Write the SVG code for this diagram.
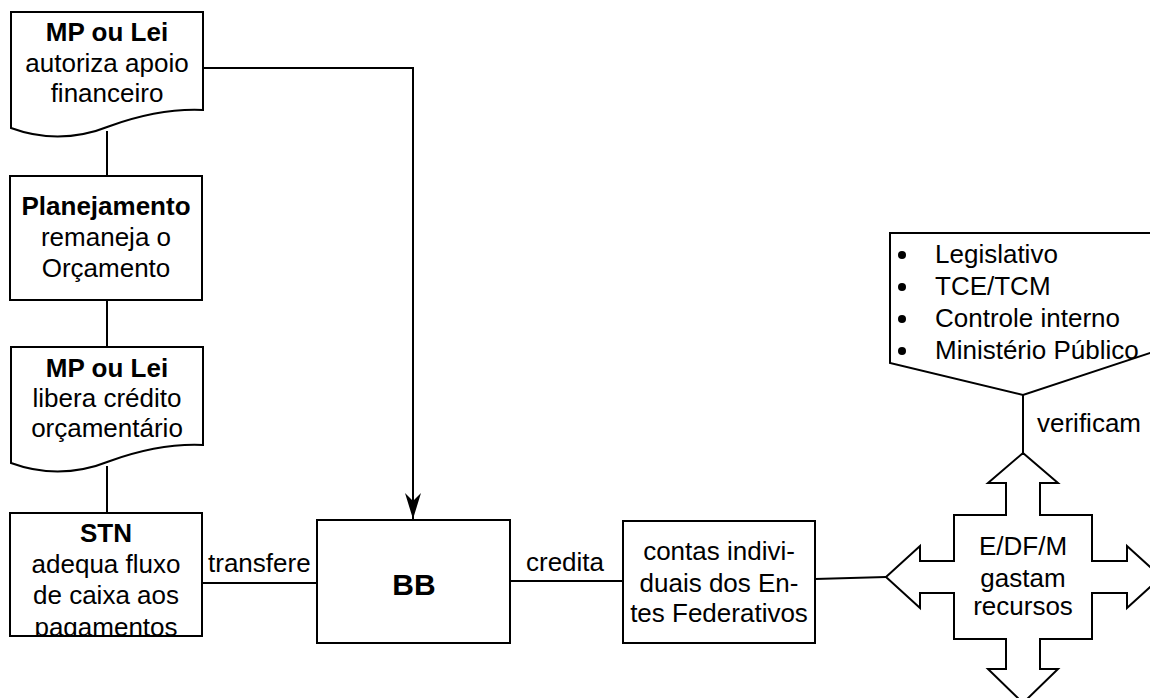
<svg xmlns="http://www.w3.org/2000/svg" width="1150" height="698" viewBox="0 0 1150 698">
<style>
.s{fill:#fff;stroke:#000;stroke-width:2}
.c{fill:none;stroke:#000;stroke-width:2}
text{font-family:"Liberation Sans",Arial,sans-serif;font-size:26px;fill:#000}
.m{text-anchor:middle}
.b{font-weight:bold}
</style>
<defs>
<marker id="arr" markerWidth="28" markerHeight="18" refX="26" refY="8" orient="auto" markerUnits="userSpaceOnUse" viewBox="0 0 28 18">
<path d="M26,8 L0,0 L8,8 L0,16 Z" fill="#000"/>
</marker>
<clipPath id="stnclip"><rect x="11" y="514" width="190" height="121"/></clipPath>
</defs>
<g id="connectors">
<path class="c" d="M203,68 H413 V519" marker-end="url(#arr)"/>
<line class="c" x1="107" y1="131" x2="107" y2="176"/>
<line class="c" x1="107" y1="300" x2="107" y2="347"/>
<line class="c" x1="107" y1="466" x2="107" y2="513"/>
<line class="c" x1="202" y1="583" x2="317" y2="583"/>
<line class="c" x1="510" y1="581" x2="623" y2="581"/>
<line class="c" x1="815" y1="579" x2="886" y2="577"/>
<line class="c" x1="1023" y1="395" x2="1023" y2="453"/>
<text x="208" y="572">transfere</text>
<text x="526" y="571">credita</text>
<text x="1037" y="432">verificam</text>
</g>
<g id="doc1">
<path class="s" d="M11,12 H203 V110 Q160,108 110,126 Q60,146 11,128 Z"/>
<text class="m b" x="107" y="41">MP ou Lei</text>
<text class="m" x="107" y="72">autoriza apoio</text>
<text class="m" x="107" y="102">financeiro</text>
</g>
<g id="planejamento">
<rect class="s" x="10" y="176" width="192" height="124"/>
<text class="m b" x="106" y="215">Planejamento</text>
<text class="m" x="106" y="246">remaneja o</text>
<text class="m" x="106" y="277">Orçamento</text>
</g>
<g id="doc2">
<path class="s" d="M11,347 H203 V445 Q160,443 110,461 Q60,481 11,463 Z"/>
<text class="m b" x="107" y="377">MP ou Lei</text>
<text class="m" x="107" y="407">libera crédito</text>
<text class="m" x="107" y="437">orçamentário</text>
</g>
<g id="stn">
<rect class="s" x="10" y="513" width="192" height="123"/>
<g clip-path="url(#stnclip)">
<text class="m b" x="106" y="542">STN</text>
<text class="m" x="106" y="573">adequa fluxo</text>
<text class="m" x="106" y="604">de caixa aos</text>
<text class="m" x="106" y="636">pagamentos</text>
</g>
</g>
<g id="bb">
<rect class="s" x="317" y="520" width="193" height="123"/>
<text class="m b" x="414" y="595" style="font-size:30px">BB</text>
</g>
<g id="contas">
<rect class="s" x="623" y="521" width="192" height="122"/>
<text class="m" x="719" y="560">contas indivi-</text>
<text class="m" x="719" y="592">duais dos En-</text>
<text class="m" x="719" y="622">tes Federativos</text>
</g>
<g id="controle">
<path class="s" d="M890,233 H1153 V352 L1023,395 L890,363 Z"/>
<circle cx="902" cy="255" r="4"/>
<circle cx="902" cy="287" r="4"/>
<circle cx="902" cy="319" r="4"/>
<circle cx="902" cy="351" r="4"/>
<text x="935" y="263">Legislativo</text>
<text x="935" y="295">TCE/TCM</text>
<text x="935" y="327">Controle interno</text>
<text x="935" y="359">Ministério Público</text>
</g>
<g id="edfm">
<path class="s" d="M1023,453 L1058,483 L1040,483 L1040,515 L1092,515 L1092,561 L1127,561 L1127,546 L1161,577 L1127,608 L1127,593 L1092,593 L1092,639 L1040,639 L1040,669 L1058,669 L1023,703 L988,669 L1006,669 L1006,639 L954,639 L954,593 L920,593 L920,608 L886,577 L920,546 L920,561 L954,561 L954,515 L1006,515 L1006,483 L988,483 Z"/>
<text class="m" x="1023" y="555">E/DF/M</text>
<text class="m" x="1023" y="587">gastam</text>
<text class="m" x="1023" y="615">recursos</text>
</g>
</svg>
